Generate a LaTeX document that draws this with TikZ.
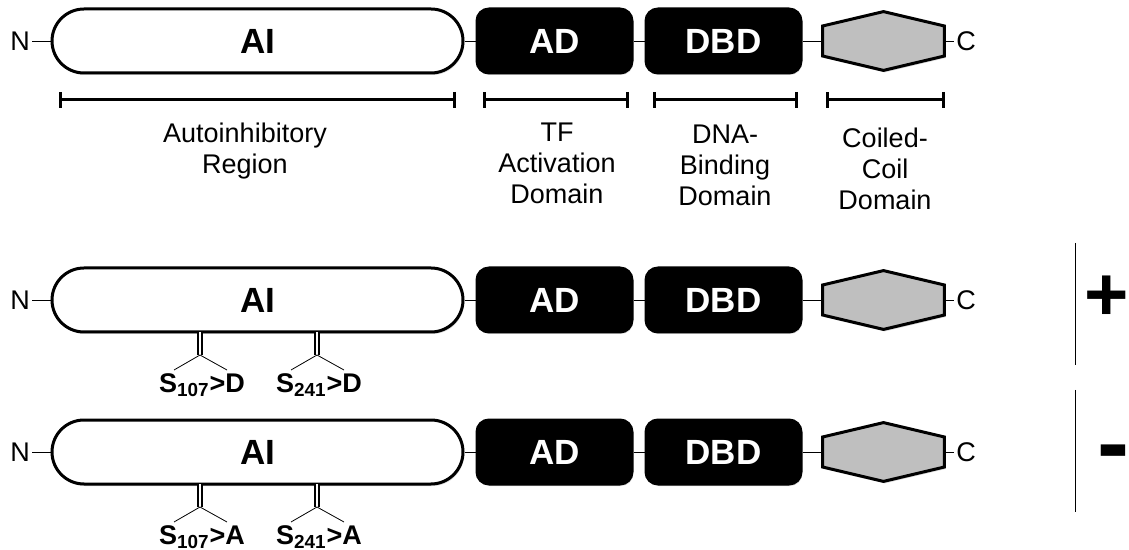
\documentclass[tikz,border=0pt]{standalone}
\usepackage{fontspec}
\setmainfont{Liberation Sans}
\usetikzlibrary{arrows.meta,calc,positioning,shadows}
\tikzset{line width=1pt,
  every node/.style={font=\fontsize{13.5}{15.5}\selectfont},
  softshadow/.style={drop shadow={shadow xshift=.6pt,shadow yshift=-1pt,opacity=.3}},
  protbox/.style={draw,line width=1.5pt,minimum height=32pt,inner sep=0pt,softshadow,
    font=\fontsize{17.5}{18}\selectfont\bfseries},
  aibox/.style={protbox,fill=white,rounded corners=16pt,minimum width=205.5pt},
  blackbox/.style={protbox,fill=black,text=white,rounded corners=6pt,minimum width=77.5pt},
  ccbox/.style={minimum width=60.5pt,minimum height=29pt,inner sep=0pt},
  hexa/.style={draw,line width=1.5pt,fill=black!25,softshadow},
  term/.style={inner sep=1pt},
  span/.style={line width=1.5pt,{Bar[width=8pt]}-{Bar[width=8pt]}},
  site/.style={double,double distance=1pt,line width=1pt},
  mut/.style={inner sep=.5pt,font=\fontsize{13.5}{14}\selectfont\bfseries},
  sign/.style={inner sep=0pt}}

\begin{document}
\begin{tikzpicture}[x=0.5pt,y=-0.5pt]
\useasboundingbox (0,0) rectangle (1129,550);
% protein rows
\foreach \r/\y in {1/41,2/300,3/452}{
\node[term] (n\r) at (20,\y) {N};
\node[aibox] (ai\r) at (257.5,\y) {AI};
\node[blackbox] (ad\r) at (554.5,\y) {AD};
\node[blackbox] (dbd\r) at (723.5,\y) {DBD};
\node[ccbox] (cc\r) at (883.5,\y) {};
\draw[hexa] ($(cc\r.west)+(0,-15)$) -- (cc\r.north) -- ($(cc\r.east)+(0,-15)$)
  -- ($(cc\r.east)+(0,15)$) -- (cc\r.south) -- ($(cc\r.west)+(0,15)$) -- cycle;
\node[term] (c\r) at (966,\y) {C};
\draw (n\r) -- (ai\r) (ai\r) -- (ad\r) (ad\r) -- (dbd\r) (dbd\r) -- (cc\r) (cc\r) -- (c\r);
}
% domain extents
\foreach \nm/\a/\b/\m/\t/\txt in {ai/59/456/245/123/{Autoinhibitory\\Region},
  ad/483/629/557/123/{TF\\Activation\\Domain},
  dbd/653/798/725/125/{DNA-\\Binding\\Domain},
  cc/826/945/885/128/{Coiled-\\Coil\\Domain}}{
\draw[span] (\a,100) -- (\b,100);
\node[anchor=north,align=center,inner sep=0pt] (lbl-\nm) at (\m,\t) {\txt};
}
% phospho-site mutants
\foreach \r/\y/\aa in {2/300/D,3/452/A}{
\foreach \x/\num in {200/107,317/241}{
\draw[site] (\x,\y+32) -- (\x,\y+55);
\draw (\x-26,\y+70) -- (\x,\y+55) -- (\x+27,\y+70);
\node[mut] (s\num-\r) at (\x+2,\y+85) {S\textsubscript{\num}>\aa};
}}
% activity
\draw (1075,243) -- (1075,365);
\node[sign,font=\fontsize{38}{38}\selectfont\bfseries] (plus) at (1107,298) {+};
\draw (1075,390) -- (1075,512);
\node[sign,font=\fontsize{48}{48}\selectfont\bfseries] (minus) at (1113,460) {-};
\end{tikzpicture}
\end{document}
